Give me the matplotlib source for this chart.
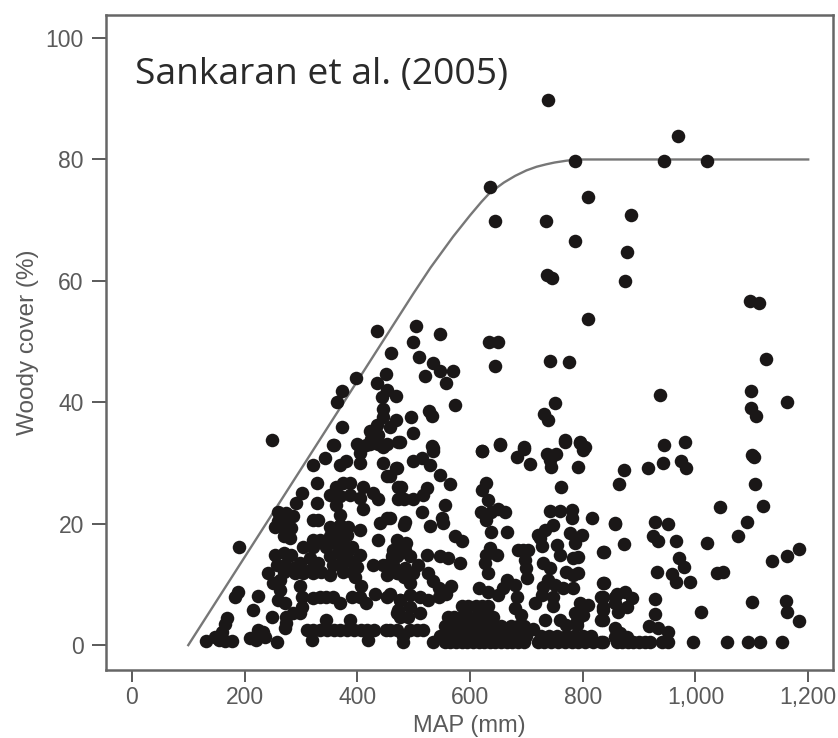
import matplotlib
matplotlib.use('Agg')
from matplotlib import pyplot as plt

# boundary line
curve_x = [100, 200, 300, 400, 500, 530, 570, 600, 620, 635, 660, 680, 700, 718, 735, 750, 771, 790, 900, 1200]
curve_y = [0, 14.5, 29, 43.5, 58, 62.2, 67.3, 70.8, 73, 74.5, 76.2, 77.3, 78.2, 78.8, 79.2, 79.5, 79.8, 80, 80, 80]

# sites above about 33 % cover
upper = [(738, 89.8), (969, 83.9), (787, 79.8), (944, 79.8), (1021, 79.8), (635, 75.5), (644, 69.9), (735, 69.9),
         (809, 73.8), (885, 70.8), (787, 66.6), (878, 64.7), (875, 59.9), (736, 61), (745, 60.4), (810, 53.7),
         (1097, 56.7), (1113, 56.4), (1125, 47.1), (1098, 41.9), (1162, 40), (1098, 39), (1107, 37.7),
         (981, 33.4), (945, 33), (937, 41.2), (634, 49.9), (650, 49.9), (645, 45.9), (742, 46.8), (776, 46.6),
         (751, 39.9), (732, 38), (739, 37.1), (768, 33.8), (795, 33.4), (804, 32.6), (653, 33.1), (622, 32),
         (696, 32.6), (434, 51.8), (504, 52.5), (547, 51.2), (498, 49.9), (459, 48.2), (509, 47.5), (534, 46.5),
         (520, 44.3), (547, 45.2), (570, 45.2), (557, 43.1), (397, 44), (450, 44.7), (435, 43.2), (372, 41.9),
         (364, 40.1), (452, 42), (443, 40.8), (468, 41.1), (573, 39.6), (446, 38.9), (528, 38.5), (532, 37.7),
         (496, 37.5), (446, 37.5), (468, 37.1), (458, 36), (372, 35.9), (434, 36.3), (422, 35.3), (499, 35),
         (437, 34.6), (425, 34), (476, 33.4), (399, 33.1), (359, 33), (532, 32.8), (437, 33.2), (452, 33.1),
         (416, 33), (249, 33.8), (190, 16.2)]

# right part of the cloud, above the bottom rows
right = [(874, 28.9), (865, 26.6), (915, 29.1), (942, 30), (975, 30.4), (983, 29.1), (1101, 31.3), (1103, 31),
         (1106, 26.6), (1043, 22.7), (1119, 22.9), (1091, 20.3), (1076, 18), (858, 19.9), (928, 20.2), (951, 20),
         (925, 18), (934, 17.2), (965, 17.2), (1020, 16.9), (873, 16.6), (838, 15.3), (1184, 15.8), (1162, 14.7),
         (1136, 13.9), (971, 14.3), (980, 12.8), (932, 12.1), (959, 11.7), (965, 10.4), (990, 10.4), (1039, 11.8),
         (1048, 12), (838, 10.2), (860, 8.5), (875, 8.8), (887, 7.7), (878, 6.3), (863, 5.5), (857, 6.9), (836, 8),
         (836, 6.3), (833, 4.2), (928, 7.6), (1101, 7.1), (1160, 7.3), (1162, 5.4), (1184, 3.9), (1010, 5.5),
         (928, 5.1), (918, 3.2), (934, 2.8), (952, 2.2), (857, 2.8), (866, 2), (878, 1.4), (857, 1.4), (872, 0.9)]

# middle part, 450 to 850 mm
middle = [(473, 33.4), (535, 32.4), (535, 31.9), (622, 31.9), (654, 33), (696, 32.3), (683, 31), (706, 29.8),
          (768, 33.5), (795, 33.3), (801, 32.2), (736, 31.5), (752, 31.5), (744, 29.4), (742, 30.5), (792, 29.3),
          (761, 26), (499, 30.4), (514, 30.8), (529, 29.7), (547, 28), (565, 26.5), (468, 29.1), (458, 27.8),
          (629, 26.7), (622, 25.6), (632, 23.9), (620, 22), (638, 22), (662, 22), (650, 22.5), (629, 20.6),
          (638, 18.7), (665, 18.7), (478, 26), (523, 25.8), (517, 24.7), (499, 24), (482, 24), (555, 23.1),
          (514, 21.9), (550, 20.9), (529, 19.6), (552, 20.1), (484, 20.3), (482, 19.8), (458, 20.9), (573, 17.9),
          (585, 17.1), (742, 22.1), (759, 22.1), (781, 22.3), (780, 20.9), (816, 20.9), (857, 20.1), (748, 19.8),
          (733, 19), (721, 18.2), (727, 16.3), (724, 17.6), (777, 18.4), (798, 18.2), (786, 16.8), (754, 16.5),
          (759, 14.9), (836, 15.4), (792, 14.5), (783, 14.3), (694, 15.7), (685, 15.7), (703, 15.7), (697, 14),
          (700, 12.7), (701, 11), (635, 16), (647, 14.9), (629, 14.9), (626, 13.5), (632, 11.8), (523, 14.9),
          (546, 14.6), (561, 14.3), (583, 13.5), (730, 13.5), (742, 12.7), (771, 12.1), (792, 11.8), (783, 11.6),
          (739, 10.7), (730, 9.6), (751, 9.9), (765, 9.4), (783, 9.4), (727, 8.3), (715, 6.9), (748, 8), (665, 10.7),
          (680, 9.9), (615, 9.4), (632, 8.8), (650, 8.3), (659, 9.4), (683, 8), (836, 10.2), (833, 8), (836, 5.8),
          (836, 4.2), (857, 8), (795, 6.9), (810, 6.6), (786, 5.3), (801, 5), (789, 3.9), (680, 6.1), (691, 5),
          (748, 6.4), (733, 4.2), (759, 4.2), (712, 2.7), (771, 3.3), (789, 3.3), (473, 17), (487, 16.8), (464, 15.7),
          (485, 15.7), (470, 14.6), (493, 14.6), (464, 13.2), (484, 12.7), (508, 13.2), (499, 11.8), (526, 11.8),
          (535, 10.5), (493, 10.2), (470, 11.8), (482, 11.3), (544, 9.4), (567, 9.8), (558, 8.5), (544, 8), (526, 7.5),
          (511, 8), (493, 8.3), (475, 7.5), (493, 6.3), (473, 5.8), (511, 5.3), (490, 4.7), (475, 4.7), (458, 8.5)]

# left part, below 450 mm
left = [(357, 33), (405, 32.7), (422, 33.2), (446, 32.7), (405, 31.6), (446, 30), (470, 29.1), (342, 30.8),
        (322, 29.7), (369, 29.7), (380, 30.4), (405, 30), (452, 27.8), (472, 26), (328, 26.7), (301, 25), (291, 23.4),
        (375, 26.7), (363, 26), (387, 26.7), (410, 26), (351, 24.7), (369, 24.5), (387, 24.7), (405, 24.2), (428, 25),
        (437, 24), (410, 22.5), (363, 23.1), (369, 21.5), (328, 23.4), (473, 24), (452, 20.9), (440, 20.1), (322, 20.6),
        (331, 20.6), (405, 19), (437, 17.3), (473, 16.5), (260, 22), (274, 21.7), (260, 20.4), (274, 20.4), (286, 21.2),
        (254, 19.5), (269, 19.3), (283, 19.3), (269, 17.9), (280, 17.6), (351, 19.5), (369, 19.8), (384, 19.5),
        (351, 17.9), (366, 18.2), (381, 18.2), (334, 17.3), (322, 17.3), (345, 16.2), (360, 16.8), (375, 16.8),
        (390, 16.2), (351, 14.6), (366, 15.1), (381, 15.1), (405, 14.9), (357, 13.2), (372, 13.5), (387, 13.8),
        (375, 12.1), (390, 12.1), (399, 12.9), (254, 14.9), (269, 15.1), (283, 14.9), (298, 13.5), (316, 14.3),
        (331, 13.5), (257, 13.2), (272, 13.2), (286, 12.7), (242, 11.8), (269, 12.1), (316, 12.4), (322, 16.2),
        (304, 16.2), (336, 12.1), (351, 11.6), (322, 11.8), (263, 10.7), (289, 11.8), (251, 10.2), (304, 11.8),
        (263, 9.1), (298, 9.7), (260, 7.5), (301, 8), (272, 6.9), (301, 6.3), (286, 5.3), (274, 4.7), (272, 2.8),
        (248, 4.7), (298, 5.3), (274, 3.6), (322, 7.7), (334, 8), (357, 8), (369, 6.9), (390, 8), (416, 6.9), (431, 8.5),
        (452, 8), (405, 8), (345, 8), (407, 9.7), (396, 11.3), (446, 13.2), (428, 13.2), (458, 13.5), (452, 11.6),
        (473, 11.8), (476, 15.1), (461, 14.6), (470, 17.3), (476, 7.5), (470, 5.3), (345, 4.2), (387, 4.2), (319, 0.9),
        (419, 0.9), (131, 0.6), (147, 1.4), (159, 2.2), (168, 4.4), (165, 3.4), (155, 0.9), (177, 0.6), (165, 0.6),
        (183, 8), (189, 8.8), (224, 8.1), (215, 5.8), (209, 1.1), (224, 2.5), (233, 2.2), (221, 0.9), (218, 1.4),
        (257, 0.5), (236, 1.4)]

# rows along the bottom where the points run together
band_25_x = [310, 322, 334, 346, 358, 370, 382, 394, 406, 418, 430, 450, 458, 470, 493, 505, 517]
band_05_x = [555, 565, 575, 585, 595, 605, 615, 625, 635, 645, 655, 665, 675, 685, 695, 720, 732, 744, 756, 768,
             780, 792, 804, 818, 836, 481, 535, 833, 860, 870, 880, 890, 900, 910, 920, 940, 952, 995, 1056, 1094,
             1114, 1153]
band_15_x = [555, 567, 579, 591, 603, 615, 627, 639, 651, 663, 675, 687, 699, 725, 740, 755, 770, 785, 800, 815,
             481, 546]
band_30_x = [555, 567, 580, 592, 605, 617, 630, 642, 655, 672, 685, 695]
band_47_x = [560, 572, 585, 597, 610, 622, 635, 641]
band_65_x = [585, 597, 610, 622, 632]

x_ticks = [0, 200, 400, 600, 800, 1000, 1200]
x_labels = ['0', '200', '400', '600', '800', '1,000', '1,200']
y_ticks = [0, 20, 40, 60, 80, 100]

plt.rcParams['font.family'] = ['Liberation Sans', 'DejaVu Sans']
gray = '#5a5a5a'
dot = '#1a1717'

fig = plt.figure(figsize=(8.38, 7.38), dpi=100)
ax = fig.add_axes([106 / 838, 68 / 738, 727 / 838, 655 / 738])

for pts in (upper, right, middle, left):
    xs, ys = zip(*pts)
    ax.scatter(xs, ys, s=95, color=dot, linewidths=0, zorder=3)
for row, level in ((band_25_x, 2.5), (band_05_x, 0.5), (band_15_x, 1.5), (band_30_x, 3.2), (band_47_x, 4.7), (band_65_x, 6.5)):
    ax.scatter(row, [level] * len(row), s=95, color=dot, linewidths=0, zorder=3)

ax.plot(curve_x, curve_y, color='#777777', lw=1.7, zorder=2)

ax.set_xlim(-46, 1244)
ax.set_ylim(-4.1, 103.8)
ax.set_xticks(x_ticks)
ax.set_xticklabels(x_labels)
ax.set_yticks(y_ticks)
ax.tick_params(axis='x', length=8.5, width=1.4, color=gray, labelcolor=gray, labelsize=16.5, pad=3)
ax.tick_params(axis='y', length=10, width=1.4, color=gray, labelcolor=gray, labelsize=16.5, pad=6)
for s in ax.spines.values():
    s.set_linewidth(1.8)
    s.set_color('#666666')

ax.set_xlabel('MAP (mm)', fontsize=17, color=gray, labelpad=4)
ax.set_ylabel('Woody cover (%)', fontsize=17.5, color=gray, labelpad=5)

fig.text(135 / 838, 1 - 75 / 738, 'Sankaran et al. (2005)', family='Open Sans', fontsize=26.8, color='#2a2a2a', va='center')

plt.savefig('out.png', dpi=100)
